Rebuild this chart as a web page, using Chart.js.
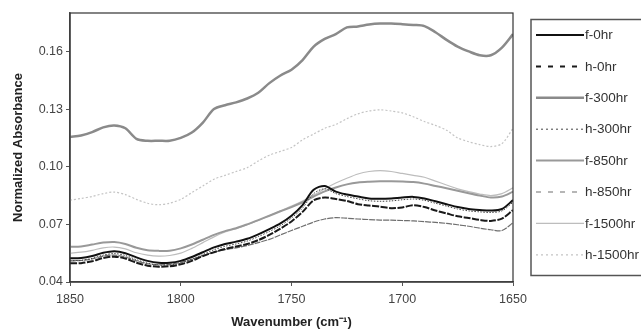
<!DOCTYPE html>
<html>
<head>
<meta charset="utf-8">
<script src="https://cdn.jsdelivr.net/npm/chart.js@4.4.1/dist/chart.umd.min.js"></script>
<style>
body{margin:0;background:#fff;}
</style>
</head>
<body>
<canvas id="spectra" width="641" height="335"></canvas>
<script>
// wavenumbers (cm-1), read every 5 units off the figure
var wn=[1850,1845,1840,1835,1830,1825,1820,1815,1810,1805,1800,1795,1790,1785,1780,1775,1770,1765,1760,1755,1750,
        1745,1740,1735,1730,1725,1720,1715,1710,1705,1700,1695,1690,1685,1680,1675,1670,1665,1660,1655,1650];

var f0=[.0523,.0525,.0535,.0552,.0560,.0550,.0528,.0510,.0500,.0500,.0510,.0530,.0555,.0580,.0598,.0610,.0625,.0648,.0675,.0705,.0745,
        .0800,.0880,.0900,.0870,.0855,.0845,.0835,.0833,.0835,.0840,.0843,.0835,.0820,.0805,.0790,.0780,.0775,.0772,.0780,.0826];
var h0=[.0497,.0498,.0508,.0525,.0532,.0522,.0500,.0485,.0480,.0482,.0492,.0510,.0535,.0555,.0572,.0585,.0598,.0618,.0645,.0678,.0715,
        .0765,.0825,.0840,.0832,.0822,.0805,.0798,.0792,.0784,.0788,.0800,.0790,.0772,.0757,.0742,.0733,.0723,.0718,.0730,.0774];
var f300=[.1155,.1162,.1180,.1205,.1215,.1200,.1145,.1135,.1135,.1135,.1150,.1178,.1230,.1300,.1320,.1335,.1355,.1385,.1435,.1475,.1505,
          .1555,.1625,.1665,.1690,.1725,.1730,.1740,.1745,.1745,.1742,.1738,.1732,.1700,.1660,.1625,.1600,.1580,.1580,.1620,.1690];
var h300=[.0511,.0513,.0523,.0540,.0548,.0538,.0516,.0498,.0488,.0488,.0498,.0518,.0543,.0568,.0586,.0598,.0613,.0636,.0663,.0693,.0733,
          .0785,.0860,.0885,.0860,.0845,.0833,.0823,.0820,.0822,.0828,.0832,.0825,.0810,.0795,.0780,.0770,.0765,.0762,.0770,.0815];
var f850=[.0583,.0585,.0595,.0605,.0608,.0598,.0578,.0565,.0562,.0563,.0575,.0595,.0620,.0645,.0665,.0680,.0700,.0722,.0745,.0768,.0790,
          .0815,.0845,.0872,.0892,.0908,.0918,.0922,.0924,.0924,.0923,.0920,.0912,.0900,.0888,.0875,.0862,.0850,.0840,.0845,.0870];
var h850=[.0510,.0512,.0520,.0535,.0540,.0530,.0510,.0495,.0490,.0492,.0502,.0518,.0538,.0555,.0568,.0578,.0590,.0605,.0622,.0645,.0668,
          .0690,.0712,.0728,.0735,.0732,.0728,.0725,.0722,.0722,.0720,.0718,.0714,.0710,.0705,.0698,.0690,.0680,.0672,.0668,.0708];
var f1500=[.0550,.0555,.0565,.0578,.0582,.0572,.0552,.0540,.0535,.0538,.0550,.0575,.0605,.0635,.0660,.0678,.0698,.0720,.0745,.0770,.0795,
           .0822,.0852,.0885,.0915,.0940,.0962,.0975,.0980,.0975,.0965,.0955,.0945,.0925,.0905,.0885,.0870,.0858,.0850,.0860,.0890];
var h1500=[.0826,.0835,.0845,.0860,.0868,.0855,.0830,.0810,.0802,.0810,.0830,.0865,.0900,.0935,.0955,.0975,.0995,.1030,.1060,.1080,.1100,
           .1140,.1170,.1200,.1220,.1250,.1275,.1290,.1296,.1290,.1280,.1260,.1235,.1215,.1190,.1150,.1130,.1115,.1105,.1120,.1200];

var names=['f-0hr','h-0hr','f-300hr','h-300hr','f-850hr','h-850hr','f-1500hr','h-1500hr'];
var series=[f0,h0,f300,h300,f850,h850,f1500,h1500];
var colors=['#111111','#1a1a1a','#8a8a8a','#444444','#999999','#6e6e6e','#bdbdbd','#c4c4c4'];
var widths=[2,2,2.5,1,2,1.2,1.2,1.2];
var dashes=[[],[7,1.5],[],[1.5,1.5],[],[6,1],[],[2,2]];
var legendDash=[[],[5,7],[],[2,3],[],[5,7],[],[2,3]];
var yTicks=[0.04,0.07,0.10,0.13,0.16];
var xTicks=[1850,1800,1750,1700,1650];

function pts(arr){
  var out=[];
  for(let i=0;i<wn.length;i++){ out.push({x:wn[i],y:arr[i]}); }
  return out;
}
var ds=[];
for(let i=0;i<series.length;i++){
  ds.push({label:names[i],data:pts(series[i]),borderColor:colors[i],borderWidth:widths[i],
    borderDash:dashes[i],pointRadius:0,fill:false,tension:0.3,legendDash:legendDash[i]});
}
// draw order: lightest first so the black ones sit on top
ds[6].order=5; ds[7].order=6; ds[2].order=4; ds[4].order=3; ds[5].order=2; ds[3].order=0; ds[1].order=1; ds[0].order=1;

var frame={
  id:'frame',
  afterDraw:function(chart){
    var c=chart.ctx, a=chart.chartArea;
    c.save();
    c.strokeStyle='#333'; c.lineWidth=1.2;
    c.strokeRect(a.left,a.top,a.right-a.left,a.bottom-a.top);
    // legend box
    c.strokeStyle='#555'; c.lineWidth=1.5;
    c.strokeRect(531,19.5,130,256);
    c.font='13.5px "Liberation Sans", Arial, sans-serif';
    c.fillStyle='#333'; c.textBaseline='middle';
    var dsets=chart.data.datasets;
    for(let i=0;i<dsets.length;i++){
      var y=35+i*31.4;
      c.beginPath();
      c.setLineDash(dsets[i].legendDash);
      c.strokeStyle=dsets[i].borderColor;
      c.lineWidth=dsets[i].borderWidth;
      c.moveTo(536,y); c.lineTo(584,y); c.stroke();
      c.setLineDash([]);
      c.fillText(dsets[i].label,585,y+0.5);
    }
    c.restore();
  }
};

var ctx=document.getElementById('spectra');
var chart=new Chart(ctx,{
  type:'line',
  data:{datasets:ds},
  options:{
    responsive:false,
    animation:false,
    devicePixelRatio:1,
    layout:{padding:{left:0,top:13,right:128,bottom:0}},
    plugins:{legend:{display:false},tooltip:{enabled:false}},
    scales:{
      x:{type:'linear',min:1650,max:1850,reverse:true,
        afterFit:function(s){s.height=53;},
        afterBuildTicks:function(s){s.ticks=xTicks.map(v=>({value:v}));},
        grid:{drawOnChartArea:false,tickLength:4,color:'#555'},
        border:{color:'#555',width:1.5},
        ticks:{color:'#444',padding:6,maxRotation:0,font:{family:'"Liberation Sans", Arial',size:12.5},callback:v=>String(v)},
        title:{display:true,text:'Wavenumber (cm⁻¹)',color:'#222',padding:{top:0,bottom:5},
          font:{family:'"Liberation Sans", Arial',size:13,weight:'bold'}}
      },
      y:{min:0.04,max:0.18,
        afterFit:function(s){s.width=70;},
        afterBuildTicks:function(s){s.ticks=yTicks.map(v=>({value:v}));},
        grid:{drawOnChartArea:false,tickLength:4,color:'#555'},
        border:{color:'#555',width:1.5},
        ticks:{color:'#444',padding:3,font:{family:'"Liberation Sans", Arial',size:12.5},callback:v=>v.toFixed(2)},
        title:{display:true,text:'Normalized Absorbance',color:'#222',padding:{top:11,bottom:0},
          font:{family:'"Liberation Sans", Arial',size:13,weight:'bold'}}
      }
    }
  },
  plugins:[frame]
});
</script>
</body>
</html>
